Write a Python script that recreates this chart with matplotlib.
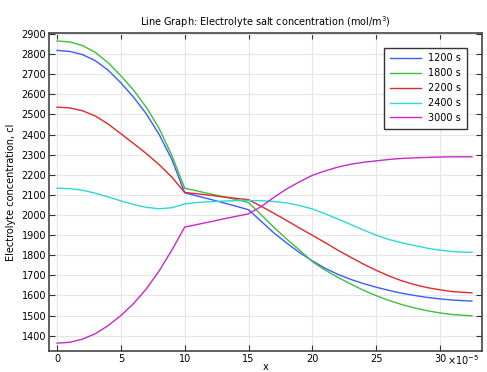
import numpy as np
import matplotlib
matplotlib.use("Agg")
import matplotlib.pyplot as plt
from matplotlib.ticker import MultipleLocator

## Data (x in units of 1e-5)
x = [0, 1, 2, 3, 4, 5, 6, 7, 8, 9, 10, 11, 12, 13, 14, 15,
     16, 17, 18, 19, 20, 21, 22, 23, 24, 25, 26, 27, 28, 29, 30, 31, 32.5]

c_1200 = [2818, 2813, 2797, 2767, 2720, 2657, 2585, 2502, 2400, 2275, 2110,
          2094, 2078, 2061, 2044, 2026,
          1968, 1910, 1860, 1813, 1772, 1735, 1705, 1680, 1659, 1641, 1625,
          1611, 1600, 1590, 1583, 1577, 1572]
c_1800 = [2865, 2860, 2842, 2808, 2757, 2692, 2620, 2535, 2430, 2295, 2133,
          2119, 2105, 2091, 2077, 2062,
          2000, 1938, 1880, 1825, 1768, 1726, 1690, 1657, 1626, 1599, 1575,
          1555, 1538, 1524, 1513, 1505, 1499]
c_2200 = [2536, 2532, 2518, 2492, 2452, 2404, 2355, 2305, 2250, 2188, 2112,
          2105, 2098, 2090, 2083, 2076,
          2043, 2008, 1972, 1935, 1899, 1863, 1825, 1790, 1756, 1725, 1697,
          1673, 1654, 1639, 1628, 1619, 1613]
c_2400 = [2133, 2131, 2123, 2108, 2090, 2070, 2052, 2038, 2031, 2036, 2055,
          2062, 2066, 2069, 2071, 2072,
          2071, 2067, 2060, 2047, 2030, 2006, 1980, 1953, 1925, 1900, 1878,
          1862, 1848, 1835, 1825, 1818, 1814]
c_3000 = [1363, 1367, 1383, 1410, 1450, 1500, 1560, 1633, 1722, 1826, 1940,
          1953, 1966, 1980, 1993, 2006,
          2042, 2088, 2130, 2165, 2197, 2219, 2238, 2252, 2262, 2269, 2276,
          2281, 2284, 2286, 2288, 2289, 2289]

labels = ['1200 s', '1800 s', '2200 s', '2400 s', '3000 s']
colors = ['#3a5cff', '#3cc03c', '#e02828', '#2ad8d8', '#c828c8']

plt.rcParams['font.family'] = 'DejaVu Sans'
plt.rcParams['font.size'] = 7

fig = plt.figure(figsize=(4.87, 3.72), dpi=100)
ax = fig.add_axes([0.1006, 0.0565, 0.8894, 0.8545])

for ys, lab, col in zip([c_1200, c_1800, c_2200, c_2400, c_3000], labels, colors):
    ax.plot(x, ys, color=col, lw=1.0, label=lab)

ax.set_xlim(-0.63, 33.3)
ax.set_ylim(1324, 2904)
ax.xaxis.set_major_locator(MultipleLocator(5))
ax.yaxis.set_major_locator(MultipleLocator(100))

ax.grid(True, color='#e6e6e6', lw=0.8)
ax.set_axisbelow(True)
ax.tick_params(direction='in', top=True, right=True, length=4, width=0.8,
               labelsize=7, color='#333333', pad=2)
for s in ax.spines.values():
    s.set_color('#444444')
    s.set_linewidth(1.2)

# x scale factor, placed like the reference next to the last tick label
ax.text(0.993, -0.006, r'$\times10^{-5}$', transform=ax.transAxes,
        ha='right', va='top', fontsize=7)

ax.set_title('Line Graph: Electrolyte salt concentration (mol/m$^3$)', fontsize=7, pad=5)
ax.set_xlabel('x', fontsize=7, labelpad=-1)
ax.set_ylabel('Electrolyte concentration, cl', fontsize=7, labelpad=4)

leg = ax.legend(loc='upper right', bbox_to_anchor=(0.977, 0.97), fontsize=7,
                fancybox=False, edgecolor='#333333', framealpha=1,
                handlelength=3.2, borderpad=0.6, labelspacing=0.5)
leg.get_frame().set_linewidth(1.0)

fig.savefig('out.png', dpi=100)
